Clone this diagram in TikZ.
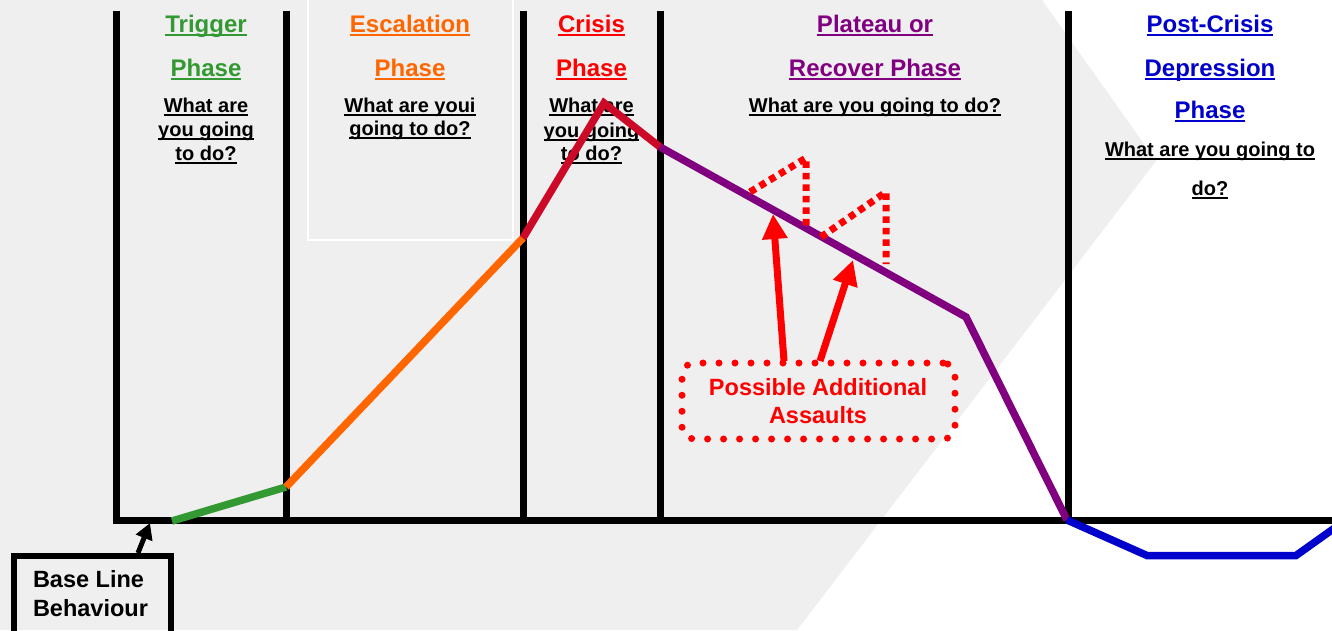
\documentclass[tikz,border=0pt]{standalone}
\usepackage{fontspec}
\setmainfont{Liberation Sans}
\usetikzlibrary{arrows.meta}
\definecolor{bggray}{HTML}{EFEFEF}
\definecolor{trig}{HTML}{339933}
\definecolor{esc}{HTML}{FF6600}
\definecolor{crit}{HTML}{FF0000}
\definecolor{critline}{HTML}{CC0A28}
\definecolor{plat}{HTML}{800080}
\definecolor{post}{HTML}{0000CC}
% underlined text, rule in the current colour
\newcommand\phul[1]{\setbox0=\hbox{#1}\rlap{\rule[-3.6pt]{\wd0}{2pt}}\box0}
\tikzset{
  head/.style={anchor=base, inner sep=0pt, outer sep=0pt, font=\fontsize{24}{28}\selectfont\bfseries},
  ask/.style={anchor=base, inner sep=0pt, outer sep=0pt, text=black, font=\fontsize{20}{24}\selectfont\bfseries},
  note/.style={inner sep=0pt, outer sep=0pt, font=\fontsize{23.5}{28}\selectfont\bfseries},
  axis/.style={line width=7pt, black},
  curve/.style={line width=7.5pt, line join=miter},
  hint/.style={crit, line width=7pt, dash pattern=on 6.5pt off 5pt},
  pointer/.style={crit, line width=7pt, -{Triangle[width=24pt,length=25pt]}},
}
\begin{document}
\begin{tikzpicture}[x=1pt,y=-1pt]
\useasboundingbox (0,0) rectangle (1332,630);
\clip (0,0) rectangle (1332,630);

% background chevron
\fill[white] (0,0) rectangle (1332,630);
\fill[bggray] (0,0) -- (1042,0) -- (1156,161) -- (797,630) -- (0,630) -- cycle;

% frame of the escalation heading
\draw[white, line width=1.5pt] (308,-2) rectangle (513,240);

% phase columns and base line
\coordinate (v1t) at (116,11);  \coordinate (v1b) at (116,524);
\coordinate (v2t) at (286,11);  \coordinate (v2b) at (286,520);
\coordinate (v3t) at (523.5,11);\coordinate (v3b) at (523.5,520);
\coordinate (v4t) at (660,11);  \coordinate (v4b) at (660,520);
\coordinate (v5t) at (1068,11); \coordinate (v5b) at (1068,520);
\coordinate (h0) at (113,520.5); \coordinate (h1) at (1340,520.5);
\draw[axis] (v1t) -- (v1b);
\draw[axis] (v2t) -- (v2b);
\draw[axis] (v3t) -- (v3b);
\draw[axis] (v4t) -- (v4b);
\draw[axis] (v5t) -- (v5b);
\draw[axis] (h0) -- (h1);

% headings
\node[head, text=trig] (trigA) at (206,32) {\phul{Trigger}};
\node[head, text=trig] (trigB) at (206,76) {\phul{Phase}};
\node[ask] (trigQ1) at (206,112) {\phul{What are}};
\node[ask] (trigQ2) at (206,136) {\phul{you going}};
\node[ask] (trigQ3) at (206,160) {\phul{to do?}};

\node[head, text=esc] (escA) at (410,32) {\phul{Escalation}};
\node[head, text=esc] (escB) at (410,76) {\phul{Phase}};
\node[ask] (escQ1) at (410,112) {\phul{What are youi}};
\node[ask] (escQ2) at (410,135) {\phul{going to do?}};

\node[head, text=crit] (critA) at (591.5,32) {\phul{Crisis}};
\node[head, text=crit] (critB) at (591.5,76) {\phul{Phase}};
\node[ask] (critQ1) at (591.5,112) {\phul{What are}};
\node[ask] (critQ2) at (591.5,137) {\phul{you going}};
\node[ask] (critQ3) at (591.5,160) {\phul{to do?}};

\node[head, text=plat] (platA) at (875,32) {\phul{Plateau or}};
\node[head, text=plat] (platB) at (875,76) {\phul{Recover Phase}};
\node[ask] (platQ1) at (875,112) {\phul{What are you going to do?}};

\node[head, text=post] (postA) at (1210,32) {\phul{Post-Crisis}};
\node[head, text=post] (postB) at (1210,76) {\phul{Depression}};
\node[head, text=post] (postC) at (1210,118) {\phul{Phase}};
\node[ask] (postQ1) at (1210,156) {\phul{What are you going to}};
\node[ask] (postQ2) at (1210,195) {\phul{do?}};

% behaviour curve
\coordinate (c0) at (172,521);
\coordinate (c1) at (286,487);
\coordinate (c2) at (523,238);
\coordinate (c3) at (604,103);
\coordinate (c4) at (660,147);
\coordinate (c5) at (966,317);
\coordinate (c6) at (1067,520);
\coordinate (c7) at (1147,555.5);
\coordinate (c8) at (1296,555.5);
\coordinate (c9) at (1350,517);
\draw[curve, trig] (c0) -- (c1);
\draw[curve, esc] (c1) -- (c2);
\draw[curve, critline] (c2) -- (c3) -- (c4);
\draw[curve, plat] (c4) -- (c5) -- (c6);
\draw[curve, post] (c6) -- (c7) -- (c8) -- (c9);

% spikes of further assaults
\coordinate (s1a) at (750,192); \coordinate (s1b) at (806,158); \coordinate (s1c) at (806,226);
\coordinate (s2a) at (821,237); \coordinate (s2b) at (886,192); \coordinate (s2c) at (886,264);
\draw[hint] (s1a) -- (s1b) -- (s1c);
\draw[hint] (s2a) -- (s2b) -- (s2c);

% note box with its arrows
\node[draw=crit, line width=7pt, dash pattern=on 0pt off 16pt, line cap=round,
      rounded corners=12pt, minimum width=273pt, minimum height=76pt,
      inner sep=0pt] (assaultbox) at (818.5,401) {};
\node[note, anchor=base, text=crit] (assaultA) at (818,395) {Possible Additional};
\node[note, anchor=base, text=crit] (assaultB) at (818,423) {Assaults};
\coordinate (p1s) at (784,361); \coordinate (p1e) at (773,214);
\coordinate (p2s) at (820,361); \coordinate (p2e) at (853,260);
\draw[pointer] (p1s) -- (p1e);
\draw[pointer] (p2s) -- (p2e);

% base line label
\node[draw=black, line width=6pt, minimum width=157pt, minimum height=90pt,
      inner sep=0pt] (basebox) at (92.5,601) {};
\node[note, anchor=base west] (baseA) at (33,587) {Base Line};
\node[note, anchor=base west] (baseB) at (33,616) {Behaviour};
\coordinate (bs) at (138,553); \coordinate (be) at (150,523);
\draw[line width=5pt, -{Triangle[width=17pt,length=16pt]}] (bs) -- (be);
\end{tikzpicture}
\end{document}
